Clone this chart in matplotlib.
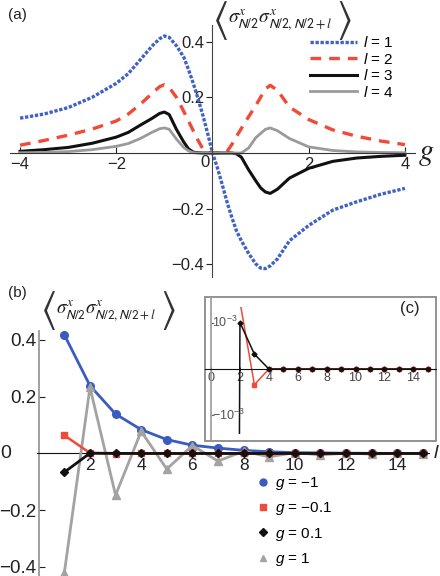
import matplotlib
matplotlib.use('Agg')
import matplotlib.pyplot as plt
from matplotlib.patches import Rectangle
from matplotlib.lines import Line2D

plt.rcParams['font.family'] = ['Liberation Sans', 'DejaVu Sans']
plt.rcParams['mathtext.fontset'] = 'custom'
plt.rcParams['mathtext.rm'] = 'Liberation Sans'
plt.rcParams['mathtext.it'] = 'Liberation Sans:italic'
plt.rcParams['axes.unicode_minus'] = True

# ---- panel (a): correlator vs g ----
g = [-4, -3.5, -3, -2.5, -2, -1.75, -1.5, -1.25, -1.1, -1.0, -0.9, -0.75, -0.6, -0.5, -0.4, -0.3, -0.2, -0.1, 0,
     0.1, 0.2, 0.3, 0.4, 0.5, 0.6, 0.75, 0.9, 1.0, 1.1, 1.2, 1.35, 1.6, 2.0, 2.5, 3, 3.5, 4]
corr_l1 = [0.125, 0.14, 0.163, 0.2, 0.25, 0.285, 0.335, 0.385, 0.41, 0.42, 0.415, 0.385, 0.345, 0.3, 0.25, 0.195, 0.135, 0.07, 0,
           -0.052, -0.112, -0.175, -0.23, -0.28, -0.315, -0.36, -0.398, -0.413, -0.415, -0.405, -0.38, -0.315, -0.26, -0.205, -0.175, -0.148, -0.127]
corr_l2 = [0.028, 0.045, 0.064, 0.086, 0.115, 0.14, 0.175, 0.215, 0.238, 0.245, 0.235, 0.2, 0.15, 0.115, 0.08, 0.045, 0.015, 0.002, 0,
           0, 0, 0.005, 0.03, 0.06, 0.088, 0.13, 0.17, 0.2, 0.23, 0.243, 0.225, 0.165, 0.12, 0.083, 0.06, 0.043, 0.03]
corr_l3 = [0.006, 0.012, 0.02, 0.035, 0.057, 0.074, 0.1, 0.125, 0.142, 0.147, 0.138, 0.085, 0.04, 0.015, 0.003, 0.001, 0, 0, 0,
           0, 0, 0, 0, -0.003, -0.015, -0.06, -0.1, -0.125, -0.14, -0.145, -0.13, -0.09, -0.055, -0.03, -0.018, -0.012, -0.008]
corr_l4 = [0.001, 0.002, 0.005, 0.012, 0.024, 0.034, 0.052, 0.075, 0.087, 0.09, 0.085, 0.05, 0.02, 0.008, 0.001, 0, 0, 0, 0,
           0, 0, 0, 0, 0, 0, 0.018, 0.055, 0.07, 0.085, 0.09, 0.08, 0.052, 0.022, 0.009, 0.004, 0.002, 0.001]

# ---- panel (b)/(c): correlator vs l ----
l_vals = list(range(1, 16))
g_m1 = [0.418, 0.239, 0.139, 0.084, 0.049, 0.029, 0.019, 0.011, 0.006, 0.003, 0.002, 0.001, 0.0005, 0.0003, 0.0002]
g_m01 = [0.064, 0.00145, -0.00034, 0, 0, 0, 0, 0, 0, 0, 0, 0, 0, 0, 0]
g_p01 = [-0.066, 0.001, 0.00032, 0, 0, 0, 0, 0, 0, 0, 0, 0, 0, 0, 0]
g_p1 = [-0.42, 0.233, -0.147, 0.078, -0.055, 0.028, -0.027, 0.008, -0.012, 0.003, -0.005, 0.001, -0.002, 0.0005, -0.001]
g_labels = [r'$g$ = −1', r'$g$ = −0.1', r'$g$ = 0.1', r'$g$ = 1']

corr_body = r'$\sigma^x_{\mathsf{N/2}}\sigma^x_{\mathsf{N/2,N/2+}l}$'
txt = '#222222'
blue = '#3a5bbf'
red = '#f04a38'
gray = '#a3a3a3'
black = '#111111'

fig = plt.figure(figsize=(4.4, 5.76), dpi=100)

# panel (a)
ax = fig.add_axes([0.0227, 0.5191, 0.9205, 0.4378])
ax.plot(g, corr_l1, color='#3f62c4', lw=2.4, ls=(0, (1, 0.5)), label=r'$l$ = 1')
ax.plot(g, corr_l2, color=red, lw=2.4, ls=(0, (3.2, 2.4)), label=r'$l$ = 2')
ax.plot(g, corr_l3, color=black, lw=2.2, label=r'$l$ = 3')
ax.plot(g, corr_l4, color='#9a9a9a', lw=2.0, label=r'$l$ = 4')
ax.set_xlim(-4.21, 4.21)
ax.set_ylim(-0.445, 0.46)
for s in ['top', 'right']:
    ax.spines[s].set_visible(False)
ax.spines['left'].set_position(('data', 0))
ax.spines['bottom'].set_position(('data', 0))
ax.spines['left'].set_color('#444444')
ax.spines['bottom'].set_color('#333333')
ax.set_xticks([-4, -2, 2, 4])
ax.set_yticks([-0.4, -0.2, 0.2, 0.4])
ax.set_yticklabels(['−0.4', '−0.2', '0.2', '0.4'])
ax.tick_params(axis='x', direction='in', length=4, pad=3, labelsize=12, colors=txt)
ax.tick_params(axis='y', direction='out', length=4, pad=2, labelsize=12, colors=txt)
ax.text(-0.06, -0.008, '0', ha='right', va='top', fontsize=12, color=txt)
ax.text(4.45, 0.0, r'$g$', math_fontfamily='stix', fontsize=22, ha='center', va='center', color=txt)
ax.legend(loc='upper left', bbox_to_anchor=(310 / 440, 1 - 35 / 576), bbox_transform=fig.transFigure,
          frameon=False, fontsize=11, handlelength=3.1, handletextpad=0.4, labelspacing=0.1,
          borderpad=0, borderaxespad=0)

# correlator labels with tall angle brackets
for (x0, y0, fs) in [(212 / 440, 1 - 20 / 576, 14), (40 / 440, 1 - 311 / 576, 13.5)]:
    fig.text(x0, y0, r'$\langle$', math_fontfamily='stix', fontsize=30, ha='left', va='center',
             color='#333333')
    body = fig.text(x0 + 16 / 440, y0, corr_body, math_fontfamily='stix', fontsize=fs,
                    ha='left', va='center', color=txt)
    fig.add_artist(matplotlib.text.Annotation(r'$\rangle$', xy=(1.0, 0.5), xycoords=body, xytext=(2.5, 0),
                                              textcoords='offset points', ha='left', va='center',
                                              fontsize=30, color='#333333', math_fontfamily='stix'))

fig.text(8 / 440, 1 - 15 / 576, '(a)', fontsize=11, ha='left', va='center', color=txt)

# panel (b)
bx = fig.add_axes([0.0852, 0.0, 0.8902, 0.4245])
bx.plot(l_vals, g_m1, color=blue, lw=2, marker='o', ms=5.5, zorder=3)
bx.plot(l_vals, g_p1, color=gray, lw=2, marker='^', ms=6, zorder=4)
bx.plot(l_vals, g_m01, color=red, lw=1.8, marker='s', ms=5, zorder=5)
bx.plot(l_vals, g_p01, color=black, lw=2, marker='D', ms=4, zorder=6)
bx.set_xlim(-0.05, 15.25)
bx.set_ylim(-0.432, 0.43)
for s in ['top', 'right']:
    bx.spines[s].set_visible(False)
bx.spines['left'].set_position(('data', 0))
bx.spines['bottom'].set_position(('data', 0))
bx.spines['left'].set_color('#999999')
bx.spines['left'].set_linewidth(1.3)
bx.spines['bottom'].set_color(black)
bx.set_xticks([2, 4, 6, 8, 10, 12, 14])
bx.set_yticks([-0.4, -0.2, 0.2, 0.4])
bx.set_yticklabels(['−0.4', '−0.2', '0.2', '0.4'])
bx.tick_params(axis='x', direction='in', length=3, pad=3, labelsize=12.5, colors=txt)
bx.tick_params(axis='y', direction='in', length=4, pad=1.5, labelsize=13.5, colors=txt)
bx.text(-1.3, 0.0, '0', ha='center', va='center', fontsize=14, color=txt)
bx.text(15.55, 0.0, r'$l$', fontsize=14, ha='center', va='center', color=txt)
proxies = [Line2D([], [], ls='none', color=blue, marker='o', ms=5),
           Line2D([], [], ls='none', color=red, marker='s', ms=4.5),
           Line2D([], [], ls='none', color=black, marker='D', ms=4),
           Line2D([], [], ls='none', color=gray, marker='^', ms=5)]
bx.legend(proxies, g_labels,
          loc='upper left', bbox_to_anchor=(257 / 440, 1 - 475 / 576), bbox_transform=fig.transFigure,
          frameon=False, fontsize=11, handlelength=0.8, handletextpad=0.4, labelspacing=0.55,
          borderpad=0, borderaxespad=0, numpoints=1)
fig.text(8 / 440, 1 - 293 / 576, '(b)', fontsize=11, ha='left', va='center', color=txt)

# inset (c)
cx = fig.add_axes([205 / 440, 1 - 441 / 576, 231 / 440, 144 / 576])
clip = Rectangle((-0.3, -1.4e-3), 15.6, 2.73e-3, transform=cx.transData)
for vals, col, mk, ms in [(g_m01, red, 's', 2.5), (g_p01, black, 'D', 2.5)]:
    ln, = cx.plot(l_vals, vals, color=col, lw=1.1, marker=mk, ms=ms)
    ln.set_clip_path(clip)
cx.set_xlim(-0.42, 15.57)
cx.set_ylim(-1.55e-3, 1.55e-3)
for s in ['top', 'right']:
    cx.spines[s].set_visible(False)
cx.spines['bottom'].set_position(('data', 0))
cx.spines['bottom'].set_color(black)
cx.spines['bottom'].set_linewidth(0.8)
cx.spines['left'].set_position(('data', 0))
cx.spines['left'].set_color('#999999')
cx.spines['left'].set_linewidth(1.2)
cx.add_patch(Rectangle((0, 0), 1, 1, transform=cx.transAxes, fill=False, ec='#8a8a8a', lw=1.3, clip_on=False))
cx.set_xticks([0, 2, 4, 6, 8, 10, 12, 14])
cx.set_yticks([-1e-3, 1e-3])
cx.set_yticklabels(['', ''])
cx.tick_params(axis='x', direction='inout', length=3, pad=1, labelsize=9, colors='#444444')
cx.tick_params(axis='y', direction='in', length=2, colors='#666666')
cx.text(0.05, 1e-3, r'$10^{-3}$', fontsize=9, ha='left', va='center', color='#555555')
cx.text(0.05, -1e-3, r'$-10^{-3}$', fontsize=9, ha='left', va='center', color='#555555')
fig.text(410 / 440, 1 - 309 / 576, '(c)', fontsize=12, ha='center', va='center', color=txt)

fig.savefig('out.png', dpi=100)
